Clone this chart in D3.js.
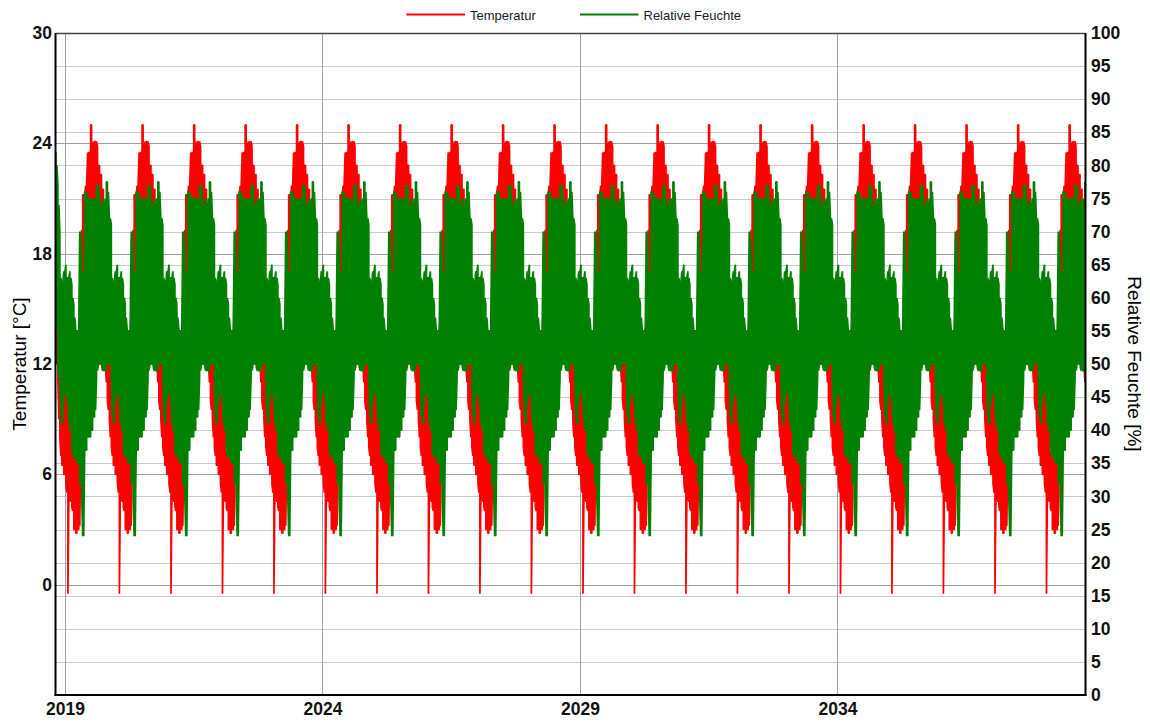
<!DOCTYPE html>
<html><head><meta charset="utf-8">
<script src="https://cdn.jsdelivr.net/npm/d3@7/dist/d3.min.js"></script>
<style>body{margin:0;background:#fff}svg{display:block}</style>
</head><body><svg id="c" width="1150" height="723"></svg>
<script>
// ---------- data ----------
const seriesNames = ["Temperatur", "Relative Feuchte"];
const years = [2018,2019,2020,2021,2022,2023,2024,2025,2026,2027,2028,2029,2030,2031,2032,2033,2034,2035,2036,2037,2038];
const yearTicks = [2019, 2024, 2029, 2034];
const tempTicks = [0, 6, 12, 18, 24, 30];
const humTicks = [0,5,10,15,20,25,30,35,40,45,50,55,60,65,70,75,80,85,90,95,100];
const tempGrid = [0, 6, 12, 18, 24];
const humGrid = [5,10,15,20,25,30,35,40,45,50,55,60,65,70,75,80,85,90,95];
// weekly envelope of one year (week 0 = 1 Jan), the same year repeats in the record
const weekTempHi = [12.5,12.0,11.5,11.0,10.5,10.5,11.0,11.0,11.5,12.0,12.0,12.5,13.0,13.0,13.5,15.0,17.0,19.3,21.2,21.2,21.2,21.7,21.7,23.5,23.5,23.5,25.0,25.0,23.5,24.1,24.1,24.1,24.1,23.8,22.8,22.8,22.3,22.3,21.5,21.5,20.0,18.0,16.5,15.5,15.0,14.0,13.5,13.0,12.5,12.5,12.5,12.5];
const weekTempLo = [6.0,5.5,5.0,-0.5,5.0,4.8,4.5,4.2,4.0,3.0,3.0,2.8,2.8,3.0,3.0,3.2,7.0,7.5,9.0,10.0,12.0,13.0,14.0,15.0,16.0,17.0,18.0,18.0,18.5,19.0,19.0,18.5,18.0,17.0,16.5,16.0,15.5,15.0,14.0,13.0,12.5,12.0,11.0,10.0,9.5,9.0,8.0,7.5,7.0,6.5,6.5,6.0];
const weekHumHi = [64,65,63,63,63,64,63,62,60,59,57,55,55,55,56,70,70,66,64,62,76,76,76,75,75,75,74,75,74,75,75,74,77,77,77,74,74,74,75,74,74,75,77.5,77.5,76,72,72,71,63,62,62,64];
const weekHumLo = [48,46,45,44,41,40,40,37,36,36,36,36,35,35,35,32,32,30,24,24,37,37,37,39,39,39,39,40,40,42,42,43,48,49,50,50,50,50,49,49,49,49,49,50,50,50,50,48,42,41,41,44];
// first weeks of the record (start transient)
const startTempHi = [15.6,15.0,14.0,13.5,13.0];
const startTempLo = [13.0,12.0,11.0,9.0,8.0];
const startHumHi = [82,80,77,74,70];
const startHumLo = [60,55,50,48,47];

// ---------- build series (one vertical min/max stroke per week) ----------
const startDate = new Date(2018, 9, 26);
const endDate = new Date(2038, 9, 26);
const temp = [], hum = [];
let k = 0;
years.forEach(Y => {
  weekTempHi.forEach((_, w) => {
    const d = new Date(Y, 0, 1 + w * 7);
    if (d < startDate || d > endDate) return;
    const early = k < startTempHi.length;
    const tHi = early ? startTempHi[k] : weekTempHi[w];
    const tLo = early ? startTempLo[k] : weekTempLo[w];
    const hHi = early ? startHumHi[k] : weekHumHi[w];
    const hLo = early ? startHumLo[k] : weekHumLo[w];
    if (k % 2 === 0) {
      temp.push({date: d, v: tHi}, {date: d, v: tLo});
      hum.push({date: d, v: hHi}, {date: d, v: hLo});
    } else {
      temp.push({date: d, v: tLo}, {date: d, v: tHi});
      hum.push({date: d, v: hLo}, {date: d, v: hHi});
    }
    k++;
  });
});

// ---------- chart ----------
const svg = d3.select("#c");
const L = 55.5, R = 1085.5, T = 33, B = 695;
const x = d3.scaleTime().domain([startDate, endDate]).range([L, R]);
const yT = d3.scaleLinear().domain([-6, 30]).range([B, T]);
const yH = d3.scaleLinear().domain([0, 100]).range([B, T]);
const font = "'Liberation Sans', Arial, sans-serif";

svg.append("rect").attr("x",0).attr("y",0).attr("width",1150).attr("height",723).attr("fill","#fff");

// grid
const g = svg.append("g");
g.selectAll(".hd").data(humGrid).join("line")
  .attr("x1", L).attr("x2", R)
  .attr("y1", d => Math.round(yH(d)) + 0.5).attr("y2", d => Math.round(yH(d)) + 0.5)
  .attr("stroke", "#999").attr("stroke-width", 1).attr("stroke-dasharray", "1,1");
g.selectAll(".ht").data(tempGrid).join("line")
  .attr("x1", L).attr("x2", R)
  .attr("y1", d => Math.round(yT(d)) + 0.5).attr("y2", d => Math.round(yT(d)) + 0.5)
  .attr("stroke", "#a0a0a0").attr("stroke-width", 1);
g.selectAll(".vx").data(yearTicks).join("line")
  .attr("x1", d => Math.round(x(new Date(d, 0, 1))) + 0.5).attr("x2", d => Math.round(x(new Date(d, 0, 1))) + 0.5)
  .attr("y1", T).attr("y2", B)
  .attr("stroke", "#a0a0a0").attr("stroke-width", 1);

// data
svg.append("clipPath").attr("id","clip").append("rect").attr("x",L).attr("y",T).attr("width",R-L).attr("height",B-T);
const lineT = d3.line().x(d => x(d.date)).y(d => yT(d.v));
const lineH = d3.line().x(d => x(d.date)).y(d => yH(d.v));
const dg = svg.append("g").attr("clip-path","url(#clip)");
dg.append("path").datum(temp).attr("d", lineT).attr("fill","none")
  .attr("stroke","#ff0000").attr("stroke-width",1.7).attr("stroke-linejoin","miter").attr("stroke-miterlimit",1);
dg.append("path").datum(hum).attr("d", lineH).attr("fill","none")
  .attr("stroke","#008000").attr("stroke-width",1.7).attr("stroke-linejoin","miter").attr("stroke-miterlimit",1);

// borders
svg.append("line").attr("x1",L).attr("x2",R).attr("y1",T+0.5).attr("y2",T+0.5).attr("stroke","#444").attr("stroke-width",1.3);
svg.append("line").attr("x1",L).attr("x2",L).attr("y1",T).attr("y2",B+1).attr("stroke","#000").attr("stroke-width",2);
svg.append("line").attr("x1",R).attr("x2",R).attr("y1",T).attr("y2",B+1).attr("stroke","#000").attr("stroke-width",2);
svg.append("line").attr("x1",L-1).attr("x2",R+1).attr("y1",B).attr("y2",B).attr("stroke","#000").attr("stroke-width",2);

// axes
function styleAxis(sel) {
  sel.select(".domain").remove();
  sel.selectAll("text").attr("font-family", font).attr("font-size", "17.5px")
    .attr("font-weight", "bold").attr("fill", "#111");
}
svg.append("g").attr("transform", `translate(${L},0)`)
  .call(d3.axisLeft(yT).tickValues(tempTicks).tickSize(0).tickPadding(3.5).tickFormat(d3.format("d")))
  .call(styleAxis);
svg.append("g").attr("transform", `translate(${R},0)`)
  .call(d3.axisRight(yH).tickValues(humTicks).tickSize(0).tickPadding(5.5).tickFormat(d3.format("d")))
  .call(styleAxis);
svg.append("g").attr("transform", `translate(0,${B})`)
  .call(d3.axisBottom(x).tickValues(yearTicks.map(yy => new Date(yy, 0, 1))).tickSize(0).tickPadding(7.5).tickFormat(d3.timeFormat("%Y")))
  .call(styleAxis);

// axis titles
svg.append("text").attr("transform", `translate(26,${(T+B)/2}) rotate(-90)`)
  .attr("text-anchor","middle").attr("font-family",font).attr("font-size","19px").attr("fill","#000")
  .text("Temperatur [°C]");
svg.append("text").attr("transform", `translate(1128,${(T+B)/2}) rotate(90)`)
  .attr("text-anchor","middle").attr("font-family",font).attr("font-size","19px").attr("fill","#000")
  .text("Relative Feuchte [%]");

// legend
const legend = [
  {name: seriesNames[0], color: "#ff0000", x1: 406.5, x2: 465, tx: 470},
  {name: seriesNames[1], color: "#008000", x1: 580, x2: 638.5, tx: 643.5}
];
const lg = svg.append("g");
legend.forEach(l => {
  lg.append("line").attr("x1", l.x1).attr("x2", l.x2).attr("y1", 14.5).attr("y2", 14.5)
    .attr("stroke", l.color).attr("stroke-width", 2);
  lg.append("text").attr("x", l.tx).attr("y", 19.5).attr("font-family", font).attr("font-size","13px")
    .attr("fill","#1a1a2a").text(l.name);
});
</script></body></html>
